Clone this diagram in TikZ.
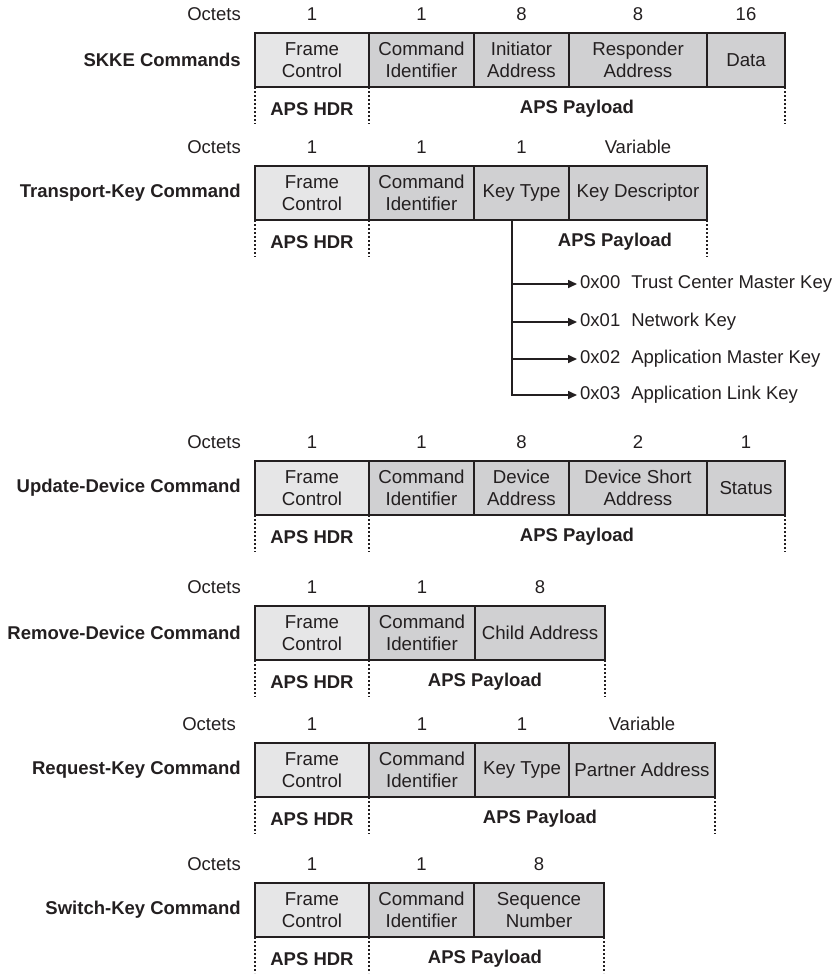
\documentclass[tikz,border=0pt]{standalone}
\usepackage{fontspec}
\setmainfont{Liberation Sans}
\usetikzlibrary{arrows.meta}
\definecolor{hdrfill}{RGB}{230,230,231}
\definecolor{payfill}{RGB}{208,208,210}
\definecolor{ink}{RGB}{35,31,32}
\tikzset{
  fieldbox/.style={draw=ink, line width=1.5pt, inner sep=0pt, outer sep=0pt,
    align=center, anchor=north west, minimum height=54pt, text=ink,
    font=\fontsize{18.7}{22.5}\selectfont},
  numlbl/.style={text=ink, inner sep=0pt, font=\fontsize{18.5}{22}\selectfont},
  octlbl/.style={text=ink, inner sep=0pt, anchor=east, font=\fontsize{18.5}{22}\selectfont},
  rowlbl/.style={text=ink, inner sep=0pt, anchor=east, font=\fontsize{18.5}{22}\selectfont\bfseries},
  apslbl/.style={text=ink, inner sep=0pt, font=\fontsize{18.5}{22}\selectfont\bfseries},
  dotline/.style={draw=ink, line width=2pt, dash pattern=on 2pt off 2pt},
  keyline/.style={draw=ink, line width=2.2pt},
  keyarrow/.style={draw=ink, line width=1.6pt, -{Triangle[length=9pt,width=8pt]}},
  keylbl/.style={text=ink, inner sep=0pt, anchor=west, font=\fontsize{18.5}{22}\selectfont},
}
\newcommand\fieldnode[8]{%
  \node[fieldbox, fill=#5, minimum width={(#3-#2)*1pt}] (#1) at (#2,#4) {#6};
  \node[numlbl] (#1n) at ({(#2+#3)/2},#8) {#7};}
\begin{document}
\begin{tikzpicture}[x=1pt,y=-1pt]
\useasboundingbox (0,0) rectangle (835,974);
% ---------------- SKKE Commands
\node[octlbl] (aoct) at (241,14) {Octets};
\node[rowlbl] (arow) at (241,60) {SKKE Commands};
\fieldnode{afc}{255}{369}{33}{hdrfill}{Frame\\Control}{1}{14}
\fieldnode{aci}{369}{474}{33}{payfill}{Command\\Identifier}{1}{14}
\fieldnode{aia}{474}{569}{33}{payfill}{Initiator\\Address}{8}{14}
\fieldnode{ara}{569}{707}{33}{payfill}{Responder\\Address}{8}{14}
\fieldnode{ada}{707}{785}{33}{payfill}{Data}{16}{14}
\draw[dotline] (afc.south west) -- +(0,37);
\draw[dotline] (afc.south east) -- +(0,37);
\draw[dotline] (ada.south east) -- +(0,37);
\node[apslbl] (ahdr) at (312,109) {APS HDR};
\node[apslbl] (apay) at (577,109) {APS Payload};
% ---------------- Transport-Key Command
\node[octlbl] (boct) at (241,147) {Octets};
\node[rowlbl] (brow) at (241,193) {Transport-Key Command};
\fieldnode{bfc}{255}{369}{166}{hdrfill}{Frame\\Control}{1}{147}
\fieldnode{bci}{369}{474}{166}{payfill}{Command\\Identifier}{1}{147}
\fieldnode{bkt}{474}{569}{166}{payfill}{Key Type}{1}{147}
\fieldnode{bkd}{569}{707}{166}{payfill}{Key Descriptor}{Variable}{147}
\draw[dotline] (bfc.south west) -- +(0,37);
\draw[dotline] (bfc.south east) -- +(0,37);
\draw[dotline] (bkd.south east) -- +(0,37);
\node[apslbl] (bhdr) at (312,242) {APS HDR};
\node[apslbl] (bpay) at (615,242) {APS Payload};
\coordinate (kvtop) at (512,220);
\coordinate (kv0) at (512,284);
\coordinate (kv1) at (512,322);
\coordinate (kv2) at (512,359);
\coordinate (kv3) at (512,395);
\node[keylbl] (k0) at (580,284) {0x00\hspace{11pt}Trust Center Master Key};
\node[keylbl] (k1) at (580,322) {0x01\hspace{11pt}Network Key};
\node[keylbl] (k2) at (580,359) {0x02\hspace{11pt}Application Master Key};
\node[keylbl] (k3) at (580,395) {0x03\hspace{11pt}Application Link Key};
\draw[keyline] (kvtop) -- (kv3);
\draw[keyarrow] (kv0) -- ([xshift=-3pt]k0.west);
\draw[keyarrow] (kv1) -- ([xshift=-3pt]k1.west);
\draw[keyarrow] (kv2) -- ([xshift=-3pt]k2.west);
\draw[keyarrow] ([xshift=-1.1pt]kv3) -- ([xshift=-3pt]k3.west);
% ---------------- Update-Device Command
\node[octlbl] (coct) at (241,442) {Octets};
\node[rowlbl] (crow) at (241,488) {Update-Device Command};
\fieldnode{cfc}{255}{369}{461}{hdrfill}{Frame\\Control}{1}{442}
\fieldnode{cci}{369}{474}{461}{payfill}{Command\\Identifier}{1}{442}
\fieldnode{cda}{474}{569}{461}{payfill}{Device\\Address}{8}{442}
\fieldnode{csa}{569}{707}{461}{payfill}{Device Short\\Address}{2}{442}
\fieldnode{cst}{707}{785}{461}{payfill}{Status}{1}{442}
\draw[dotline] (cfc.south west) -- +(0,37);
\draw[dotline] (cfc.south east) -- +(0,37);
\draw[dotline] (cst.south east) -- +(0,37);
\node[apslbl] (chdr) at (312,537) {APS HDR};
\node[apslbl] (cpay) at (577,537) {APS Payload};
% ---------------- Remove-Device Command
\node[octlbl] (doct) at (241,587) {Octets};
\node[rowlbl] (drow) at (241,633) {Remove-Device Command};
\fieldnode{dfc}{255}{369}{606}{hdrfill}{Frame\\Control}{1}{587}
\fieldnode{dci}{369}{475}{606}{payfill}{Command\\Identifier}{1}{587}
\fieldnode{dca}{475}{605}{606}{payfill}{Child Address}{8}{587}
\draw[dotline] (dfc.south west) -- +(0,37);
\draw[dotline] (dfc.south east) -- +(0,37);
\draw[dotline] (dca.south east) -- +(0,37);
\node[apslbl] (dhdr) at (312,682) {APS HDR};
\node[apslbl] (dpay) at (485,682) {APS Payload};
% ---------------- Request-Key Command
\node[octlbl] (eoct) at (236,724) {Octets};
\node[rowlbl] (erow) at (241,770) {Request-Key Command};
\fieldnode{efc}{255}{369}{743}{hdrfill}{Frame\\Control}{1}{724}
\fieldnode{eci}{369}{475}{743}{payfill}{Command\\Identifier}{1}{724}
\fieldnode{ekt}{475}{569}{743}{payfill}{Key Type}{1}{724}
\fieldnode{epa}{569}{715}{743}{payfill}{Partner Address}{Variable}{724}
\draw[dotline] (efc.south west) -- +(0,37);
\draw[dotline] (efc.south east) -- +(0,37);
\draw[dotline] (epa.south east) -- +(0,37);
\node[apslbl] (ehdr) at (312,819) {APS HDR};
\node[apslbl] (epay) at (540,819) {APS Payload};
% ---------------- Switch-Key Command
\node[octlbl] (foct) at (241,864) {Octets};
\node[rowlbl] (frow) at (241,910) {Switch-Key Command};
\fieldnode{ffc}{255}{369}{883}{hdrfill}{Frame\\Control}{1}{864}
\fieldnode{fci}{369}{474}{883}{payfill}{Command\\Identifier}{1}{864}
\fieldnode{fsn}{474}{604}{883}{payfill}{Sequence\\Number}{8}{864}
\draw[dotline] (ffc.south west) -- +(0,36);
\draw[dotline] (ffc.south east) -- +(0,36);
\draw[dotline] (fsn.south east) -- +(0,36);
\node[apslbl] (fhdr) at (312,959) {APS HDR};
\node[apslbl] (fpay) at (485,959) {APS Payload};
\end{tikzpicture}
\end{document}
